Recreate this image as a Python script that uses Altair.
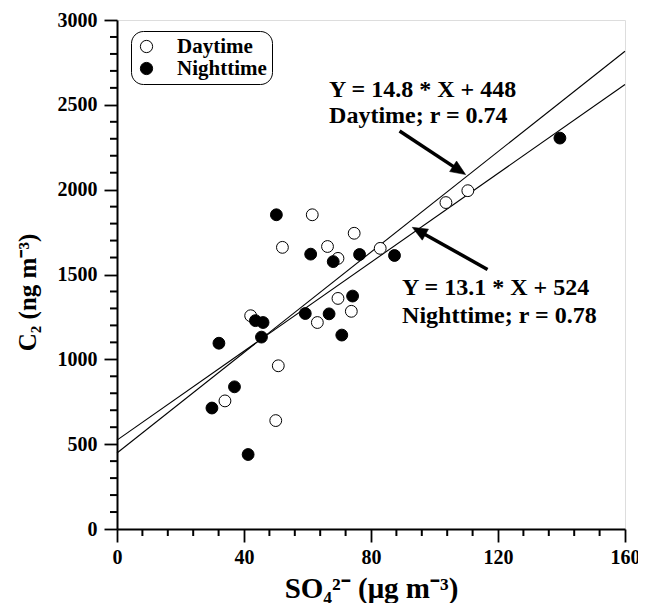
import math
import altair as alt
import pandas as pd

# ---------------- data ----------------
day_x = [61.5, 52.1, 66.3, 74.7, 69.6, 82.9, 103.6, 110.5, 69.6, 73.8, 63.1, 42.1, 50.8, 34.0, 50.0]
day_y = [1852, 1660, 1665, 1743, 1595, 1654, 1924, 1994, 1359, 1283, 1217, 1257, 962, 755, 639]
night_x = [50.2, 139.5, 61.0, 68.1, 76.4, 87.4, 74.2, 59.3, 66.8, 70.8, 43.6, 46.0, 45.5, 32.1, 37.0, 29.9, 41.3]
night_y = [1852, 2304, 1620, 1576, 1618, 1612, 1373, 1270, 1268, 1143, 1228, 1217, 1131, 1095, 838, 713, 439]

periods = ["Daytime", "Nighttime"]
slopes = [14.8, 13.1]
intercepts = [448, 524]
fit_lines = ["Y = 14.8 * X + 448", "Y = 13.1 * X + 524"]
r_lines = ["Daytime; r = 0.74", "Nighttime; r = 0.78"]

x_major = [0, 40, 80, 120, 160]
y_major = [0, 500, 1000, 1500, 2000, 2500, 3000]
x_minor = [v for v in range(0, 161, 8) if v % 40]
y_minor = [v for v in range(0, 3001, 100) if v % 500]

# annotation layout (data units)
label_x = [66.8, 89.8]
label_y1 = [2546, 1379]
label_y2 = [2393, 1214]
arrow_start = [(89.0, 2346), (116.7, 1530)]
arrow_tip = [(109.8, 2089), (93.0, 1778)]

W, H = 508, 509
XMAX, YMAX = 160, 3000
FONT = "Liberation Serif"
MAJOR_TICK = 13
MINOR_TICK = 7

# ---------------- tables ----------------
pts = pd.DataFrame({
    "x": day_x + night_x,
    "y": day_y + night_y,
    "period": [periods[0]] * len(day_x) + [periods[1]] * len(night_x),
})

line_rows = []
for p, m, b in zip(periods, slopes, intercepts):
    for xv in (0, XMAX):
        line_rows.append({"period": p, "x": xv, "y": m * xv + b})
lines = pd.DataFrame(line_rows)

text_rows = []
for i in range(2):
    text_rows.append({"x": label_x[i], "y": label_y1[i], "t": fit_lines[i]})
    text_rows.append({"x": label_x[i], "y": label_y2[i], "t": r_lines[i]})
texts = pd.DataFrame(text_rows)

px_x = W / XMAX
px_y = H / YMAX
arrow_rows = []
for (sx, sy), (tx, ty) in zip(arrow_start, arrow_tip):
    dxp = (tx - sx) * px_x
    dyp = -(ty - sy) * px_y  # screen, down positive
    L = math.hypot(dxp, dyp)
    ux, uy = dxp / L, dyp / L
    ang = math.degrees(math.atan2(ux, -uy)) % 360
    back = 9.0
    ex = tx - ux * back / px_x
    ey = ty + uy * back / px_y
    arrow_rows.append({"x": sx, "y": sy, "x2": ex, "y2": ey, "tx": tx, "ty": ty, "ang": ang})
arrows = pd.DataFrame(arrow_rows)

xminor_df = pd.DataFrame({"v": x_minor})
yminor_df = pd.DataFrame({"v": y_minor})

xscale = alt.Scale(domain=[0, XMAX], nice=False, zero=False)
yscale = alt.Scale(domain=[0, YMAX], nice=False, zero=False)

x_axis = alt.Axis(
    orient="bottom", values=x_major, tickCount=len(x_major) + 5, format="d",
    tickSize=MAJOR_TICK, tickWidth=1.8, tickColor="black",
    domainColor="black", domainWidth=2, grid=False, labelFlush=False, labelOverlap=False,
    labelFont=FONT, labelFontSize=20, labelFontWeight="bold", labelColor="black", labelPadding=5,
    title="SO₄²⁻ (μg m⁻³)", titleFont=FONT, titleFontSize=29, titleFontWeight="bold",
    titleColor="black", titleY=68, titleBaseline="alphabetic",
)
y_axis = alt.Axis(
    orient="left", values=y_major, tickCount=len(y_major) + 5, format="d",
    tickSize=MAJOR_TICK, tickWidth=1.8, tickColor="black",
    domainColor="black", domainWidth=2, grid=False, labelFlush=False, labelOverlap=False,
    labelFont=FONT, labelFontSize=20, labelFontWeight="bold", labelColor="black", labelPadding=7,
    title="C₂ (ng m⁻³)", titleFont=FONT, titleFontSize=25, titleFontWeight="bold",
    titleColor="black", titleAngle=270, titleX=-82, titleY=272, titleAlign="center",
    titleBaseline="alphabetic",
)

fit = alt.Chart(lines).mark_line(color="black", strokeWidth=1.1).encode(
    x=alt.X("x:Q", scale=xscale, axis=x_axis),
    y=alt.Y("y:Q", scale=yscale, axis=y_axis),
    detail="period:N",
)

# minor ticks drawn as tick marks just outside the plot edges
xminor = alt.Chart(xminor_df).mark_tick(
    color="black", orient="vertical", size=MINOR_TICK, thickness=2, opacity=1
).encode(
    x=alt.X("v:Q", scale=xscale),
    y=alt.value(H + MINOR_TICK / 2),
)
yminor = alt.Chart(yminor_df).mark_tick(
    color="black", orient="horizontal", size=MINOR_TICK, thickness=2, opacity=1
).encode(
    y=alt.Y("v:Q", scale=yscale),
    x=alt.value(-MINOR_TICK / 2),
)

points = alt.Chart(pts).mark_circle(size=140, stroke="black", strokeWidth=1, opacity=1).encode(
    x=alt.X("x:Q", scale=xscale),
    y=alt.Y("y:Q", scale=yscale),
    fill=alt.Fill(
        "period:N",
        scale=alt.Scale(domain=periods, range=["white", "black"]),
        legend=alt.Legend(
            title=None, orient="none", legendX=14, legendY=11,
            fillColor="white", strokeColor="black", cornerRadius=12, padding=5,
            labelFont=FONT, labelFontSize=21, labelFontWeight="bold", labelColor="black",
            labelOffset=20, rowPadding=0, symbolSize=150, symbolType="circle",
            symbolStrokeColor="black", symbolStrokeWidth=1,
        ),
    ),
)

txt = alt.Chart(texts).mark_text(
    align="left", baseline="alphabetic", font=FONT, fontSize=24, fontWeight="bold", color="black"
).encode(
    x=alt.X("x:Q", scale=xscale),
    y=alt.Y("y:Q", scale=yscale),
    text="t:N",
)

shafts = alt.Chart(arrows).mark_rule(color="black", strokeWidth=3.5).encode(
    x=alt.X("x:Q", scale=xscale),
    y=alt.Y("y:Q", scale=yscale),
    x2="x2:Q",
    y2="y2:Q",
)

heads = alt.Chart(arrows).mark_point(
    shape="M0,0 L0.42,1 L-0.42,1 Z", size=900, filled=True, fill="black", stroke="black",
    strokeWidth=0.5, opacity=1,
).encode(
    x=alt.X("tx:Q", scale=xscale),
    y=alt.Y("ty:Q", scale=yscale),
    angle=alt.Angle("ang:Q", scale=None),
)

chart = alt.layer(fit, xminor, yminor, points, txt, shafts, heads).properties(
    width=W, height=H,
    autosize=alt.AutoSizeParams(type="none"),
    padding={"left": 109, "top": 12, "right": 13, "bottom": 74},
).configure_view(
    stroke="black", strokeWidth=2, clip=False
).configure(background="white")

chart.save("out.html", embed_options={"renderer": "svg", "actions": False})
